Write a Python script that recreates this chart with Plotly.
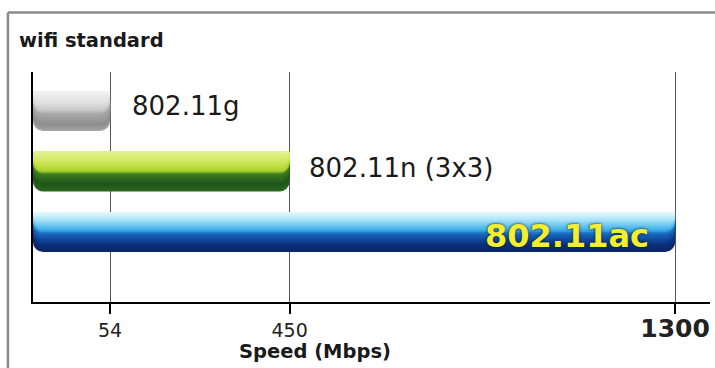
import plotly.graph_objects as go

# ---- data ----
categories = ["802.11g", "802.11n (3x3)", "802.11ac"]
speeds = [54, 450, 1300]
tick_values = [54, 450, 1300]
tick_labels = ["54", "450", "1300"]

# ---- styling ----
FONT = "DejaVu Sans"
X_MIN, X_MAX = -116, 1377
Y_MIN, Y_MAX = -1.157, 2.645
BAR_W = 0.66
N_LAYERS = 22

gradients = [
    [(0.0, "#f3f3f3"), (0.3, "#e0e0e0"), (0.5, "#c6c6c6"), (0.56, "#aaaaaa"),
     (0.85, "#8d8d8d"), (1.0, "#a8a8a8")],
    [(0.0, "#e4f294"), (0.25, "#d0e85c"), (0.5, "#a9d12a"), (0.56, "#3f7d22"),
     (0.82, "#1d5318"), (1.0, "#2c6a22")],
    [(0.0, "#e8f9ff"), (0.2, "#a9e3f9"), (0.45, "#3aafe8"), (0.55, "#1766c0"),
     (0.82, "#0a2f7a"), (1.0, "#0e2568")],
]


def hex2rgb(h):
    h = h.lstrip("#")
    return [int(h[i:i + 2], 16) for i in (0, 2, 4)]


def grad_color(stops, t):
    for (p0, c0), (p1, c1) in zip(stops[:-1], stops[1:]):
        if p0 <= t <= p1:
            f = 0 if p1 == p0 else (t - p0) / (p1 - p0)
            a, b = hex2rgb(c0), hex2rgb(c1)
            return "rgb(%d,%d,%d)" % tuple(round(a[i] + (b[i] - a[i]) * f) for i in range(3))
    return stops[-1][1]


fig = go.Figure()

for cat, val, stops in zip(categories, speeds, gradients):
    for k in range(N_LAYERS):
        thick = BAR_W * (1 - k / N_LAYERS)
        depth = 1 - (k + 0.5) / N_LAYERS
        fig.add_trace(go.Bar(
            y=[cat], x=[val - X_MIN], base=X_MIN, orientation="h",
            width=thick, offset=BAR_W / 2 - thick,
            marker=dict(color=grad_color(stops, depth), line=dict(width=0), cornerradius=10),
            hoverinfo="skip", showlegend=False,
        ))

# labels next to / inside bars
fig.add_annotation(x=speeds[0], y=categories[0], text=categories[0], showarrow=False,
                   xanchor="left", xshift=20, yshift=5,
                   font=dict(family=FONT, size=26, color="#1a1a1a"))
fig.add_annotation(x=speeds[1], y=categories[1], text=categories[1], showarrow=False,
                   xanchor="left", xshift=17, yshift=4,
                   font=dict(family=FONT, size=26, color="#1a1a1a"))
fig.add_annotation(x=speeds[2], y=categories[2], text="<b>802.11ac</b>", showarrow=False,
                   xanchor="right", xshift=-24, yshift=-4,
                   font=dict(family=FONT, size=32, color="#f4ee2c",
                             shadow="0px 0px 3px #001535"))

# chart title and axis title
fig.add_annotation(xref="paper", yref="paper", x=-0.024, y=1.139, text="<b>wifi standard</b>",
                   showarrow=False, xanchor="left", yanchor="middle",
                   font=dict(family=FONT, size=19.5, color="#1a1a1a"))
fig.add_annotation(xref="paper", yref="paper", x=0.4165, y=-0.217, text="<b>Speed (Mbps)</b>",
                   showarrow=False, xanchor="center", yanchor="middle",
                   font=dict(family=FONT, size=19.5, color="#1a1a1a"))

# picture frame (top and left edges)
fig.add_shape(type="line", xref="paper", yref="paper", x0=-0.037, x1=1.01, y0=1.2586, y1=1.2586,
              line=dict(color="#8a8a8a", width=2.5))
fig.add_shape(type="line", xref="paper", yref="paper", x0=-0.037, x1=-0.037, y0=1.2586, y1=-0.3,
              line=dict(color="#8a8a8a", width=2.5))

ticktext = tick_labels[:-1] + ["<b><span style='font-size:25px'>%s</span></b>" % tick_labels[-1]]

fig.update_layout(
    width=715, height=368,
    margin=dict(l=33, r=5, t=72, b=66),
    paper_bgcolor="white", plot_bgcolor="white",
    barmode="overlay",
    font=dict(family=FONT, color="#1a1a1a"),
    xaxis=dict(range=[X_MIN, X_MAX], tickvals=tick_values, ticktext=ticktext,
               showgrid=True, gridcolor="#555555", gridwidth=1,
               showline=True, linecolor="black", linewidth=2,
               ticks="outside", ticklen=10, tickwidth=2, tickcolor="black",
               tickfont=dict(family=FONT, size=19, color="#222222"),
               zeroline=False, fixedrange=True, automargin=False),
    yaxis=dict(range=[Y_MIN, Y_MAX], type="category",
               categoryorder="array", categoryarray=categories[::-1],
               showticklabels=False, showgrid=False, ticks="",
               showline=True, linecolor="black", linewidth=2,
               zeroline=False, fixedrange=True, automargin=False),
)

fig.write_html("out.html", config={"displayModeBar": False},
               post_script="document.body.style.margin='0';document.body.style.overflow='hidden';")
